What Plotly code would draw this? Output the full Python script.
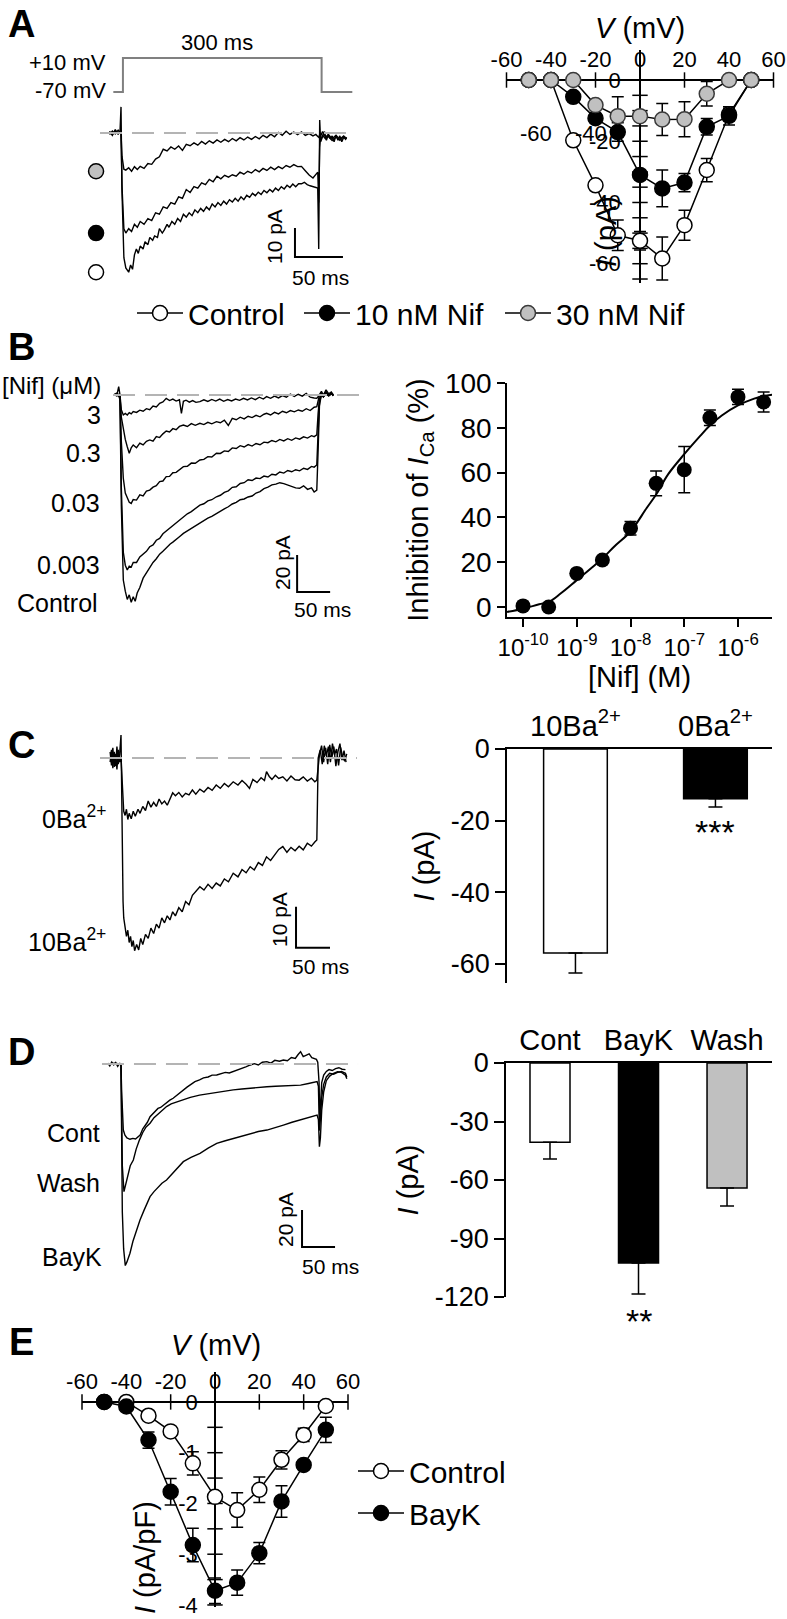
import plotly.graph_objects as go

W, H = 787, 1619
def X(px): return px / W
def Y(py): return 1 - py / H

FONT = "Liberation Sans, Arial, sans-serif"

# ================= DATA =================
# ---- Panel A: voltage protocol (ms, mV)
prot_t = [-8, 2, 2, 209, 209, 241]
prot_v = [-70, -70, 10, 10, -70, -70]

# ---- Panel A: current traces (ms, pA)
A_ctrl = [(-12,0.6),(-9,-0.8),(-6,1.2),(-3,-0.5),(-1,0.8),(0,9),(1,-20),(2,-38),(3,-43),(5,-46.5),(8,-48),(10,-45.5),(12,-47),(14,-42),(16,-40),(18,-41.5),(20,-39),(23,-40),(25,-37.5),(28,-38.5),(30,-36),(33,-37),(35,-35.5),(38,-36),(40,-33),(43,-34.5),(45,-33.5),(48,-31.5),(50,-32.5),(53,-30.5),(56,-31.5),(59,-29.5),(62,-30.5),(65,-28),(68,-29),(71,-27.5),(74,-28.5),(77,-26.5),(80,-27.5),(83,-26),(86,-27),(89,-25.5),(92,-26.5),(95,-24.5),(98,-25.5),(101,-24),(104,-25),(107,-23.5),(110,-24.5),(113,-23),(116,-23.8),(119,-22.5),(122,-23.5),(125,-22),(128,-23),(131,-21.5),(134,-22.2),(137,-20.8),(140,-21.6),(143,-20.4),(146,-21.2),(149,-19.8),(152,-20.6),(155,-19.5),(158,-20.3),(161,-19),(164,-19.8),(167,-18.5),(170,-19.3),(173,-18),(176,-18.8),(179,-17.6),(182,-18.5),(185,-17.5),(188,-17.5),(191,-17),(194,-17.8),(197,-18.2),(200,-18.5),(203,-18.8),(205,-19),(206,-40),(207,4.5),(208,-3),(210,-1.5),(212,0.5),(214,-2.5),(216,-0.5),(218,-2),(220,-1),(222,-3),(224,-0.8),(226,-2.5),(228,-1),(230,-3),(232,-1.5),(234,-2.2),(235,-1.5)]
A_nif10 = [(-12,-0.5),(-9,0.7),(-6,-0.3),(-3,1),(-1,0),(0,0),(1,-18),(2,-30),(3,-33),(5,-34.5),(8,-33),(11,-34),(14,-31.5),(17,-32.5),(20,-30.5),(24,-31.5),(28,-29.5),(32,-30.2),(36,-27.5),(40,-28),(44,-25.5),(48,-26),(52,-24),(56,-24.5),(60,-22),(64,-22.5),(68,-19.5),(72,-20.5),(76,-18.5),(80,-19),(84,-17.2),(88,-17.8),(92,-16),(96,-16.8),(100,-14.9),(104,-15.8),(108,-14.6),(112,-15.2),(116,-14.4),(120,-14.9),(124,-13.5),(128,-14.2),(132,-13.2),(136,-13.8),(140,-12.6),(144,-13.4),(148,-12.2),(152,-12.9),(156,-11.8),(160,-12.6),(164,-11.6),(168,-12.3),(172,-11.2),(176,-11.8),(180,-10.9),(184,-11.6),(188,-11.5),(192,-13),(196,-14.5),(200,-15.5),(203,-14.5),(205,-13.5),(206,-24),(207,-5),(208,-1),(210,0.5),(213,-1.5),(216,-0.5),(220,-2),(224,-0.8),(228,-2.2),(232,-1),(235,-2)]
A_nif30 = [(-12,0.3),(-9,-0.6),(-6,0.8),(-3,-0.2),(-1,0.5),(0,0),(1,-8),(2,-11.5),(3,-12.5),(5,-12.8),(8,-12),(11,-13.2),(14,-11.6),(17,-12.6),(20,-11.5),(24,-12.2),(28,-10.5),(32,-10.8),(36,-9),(40,-8.2),(44,-5.6),(48,-6.2),(52,-4.8),(56,-5.6),(60,-4.5),(64,-6),(68,-3.9),(72,-4.4),(76,-3.4),(80,-4.2),(84,-2.9),(88,-3.8),(92,-2.7),(96,-3.5),(100,-2.4),(104,-3.2),(108,-2.2),(112,-3),(116,-1.9),(120,-2.7),(124,-1.6),(128,-2.4),(132,-1.4),(136,-2.2),(140,-1.2),(144,-2),(148,-0.8),(152,-1.6),(156,-0.4),(160,-1.3),(164,0.2),(168,-0.8),(172,0.6),(176,-0.5),(180,0.3),(184,-0.6),(188,0.4),(192,-0.8),(196,-0.2),(200,-1),(203,-0.5),(205,-1.2),(206,-1.5),(207,-0.5),(208,-2.5),(210,-0.8),(213,-2),(216,-1.2),(220,-2.6),(224,-1.4),(228,-2.5),(232,-1.3),(235,-1.8)]

# ---- Panel A: I-V relation
iv_v = [-50, -40, -30, -20, -10, 0, 10, 20, 30, 40, 50]
ivA_ctrl = [0, 0, -19.7, -34.4, -50.7, -52.5, -58.3, -47.4, -29.4, -11.2, 0]
ivA_ctrl_err = [0, 0, 0, 0, 5, 3, 7, 4.9, 3.8, 2, 0]
ivA_nif10 = [0, 0, -5.5, -12.5, -17, -31, -35.4, -33.5, -15.3, -11.7, 0]
ivA_nif10_err = [0, 0, 0, 0, 3, 0, 6, 3, 2.7, 3, 0]
ivA_nif30 = [0, 0, 0, -8.2, -11.8, -11.8, -12.9, -12.8, -4.5, 0, 0]
ivA_nif30_err = [0, 0, 0, 0, 6.3, 0, 5.2, 5.7, 4, 0, 0]
iv_xticks = [-60, -40, -20, 0, 20, 40, 60]
ivA_yticklabels = [0, -20, -40, -60]
ivA_yticks = [0, -5, -10, -15, -20, -25, -30, -35, -40, -45, -50, -55, -60, -65]

# ---- Panel B: traces (ms, pA)
B_3 = [(-8,1),(-5,-0.5),(-2,4.5),(0,0),(2,-8),(5,-10.8),(8,-10),(11,-10.8),(14,-9.5),(17,-10.2),(20,-9),(25,-9.4),(30,-8.2),(35,-8.8),(40,-7.4),(45,-7.9),(50,-6),(55,-6.5),(60,-4.5),(65,-3.8),(70,-1.8),(75,-3),(80,-2.2),(85,-3.3),(90,-2.6),(93,-10),(96,-3.4),(100,-2.8),(105,-3.9),(110,-3),(115,-4),(121,-3.6),(127,-2.6),(133,-3.5),(139,-2.4),(145,-3.3),(151,-2.2),(157,-3.4),(163,-2.5),(169,-3.2),(175,-2.2),(181,-2.9),(187,-1.8),(193,-2.7),(199,-1.6),(205,-2.5),(211,-1.2),(217,-2.2),(222,-0.9),(228,-1.8),(234,-0.6),(240,-1.6),(246,-0.3),(252,-1.2),(258,0.5),(264,-0.8),(270,0.4),(276,-0.6),(282,0.8),(288,-1.2),(294,-1.6),(298,-1.8),(300,-1),(302,0.5),(305,2),(308,0),(312,2.8),(316,0.6),(320,1.6),(323,0)]
B_03 = [(-8,0),(-5,1),(-2,0),(0,-1),(2,-12),(5,-19),(8,-24),(11,-28),(14,-31.5),(17,-28.5),(20,-27),(25,-28.5),(30,-26),(35,-27),(40,-25),(45,-24.3),(50,-25),(55,-22.5),(60,-23),(65,-21),(70,-19.5),(75,-20),(80,-18.2),(85,-18.8),(90,-17),(96,-16.2),(102,-17),(108,-15.5),(114,-16.4),(121,-15.3),(127,-16),(133,-14.8),(139,-15.6),(146,-14.4),(152,-15),(158,-13.6),(164,-16.5),(170,-12.6),(176,-13.4),(182,-12),(188,-12.9),(194,-11.5),(200,-12.2),(206,-11),(212,-11.8),(218,-10.4),(222,-9.9),(228,-10.8),(234,-9.4),(240,-10.2),(246,-8.8),(252,-9.6),(258,-8.4),(264,-9.1),(270,-8.1),(276,-8.8),(282,-7.4),(288,-8.4),(294,-6.6),(298,-6.3),(300,-3),(302,0),(305,1),(308,-0.5),(312,1.8),(316,0),(320,1),(323,-0.5)]
B_003 = [(-8,0.5),(-5,0),(-2,-0.5),(0,-1),(2,-25),(5,-45),(8,-53),(11,-56),(14,-58),(17,-58.6),(20,-56.5),(25,-56.8),(30,-54),(35,-54.5),(40,-52),(45,-51.4),(50,-49.8),(55,-49),(60,-46.8),(65,-46.5),(70,-44.1),(75,-44),(80,-42),(85,-41.8),(90,-40.2),(96,-38.7),(102,-38.5),(108,-36.8),(114,-36.9),(121,-35.1),(127,-34.8),(133,-33.3),(139,-33.5),(146,-31.5),(152,-31.6),(158,-30.2),(164,-30.5),(170,-28.6),(176,-28.9),(182,-27.4),(188,-28.1),(194,-26.8),(200,-27.6),(206,-26.2),(212,-26.9),(218,-25.5),(224,-25.8),(230,-24.6),(236,-25.3),(242,-24),(248,-24.8),(254,-23.6),(260,-24.5),(266,-23.2),(272,-23.9),(278,-22.6),(284,-23.3),(290,-22),(294,-22.5),(298,-21.6),(300,-10),(302,-2),(305,0.5),(308,-1),(312,1),(316,-0.5),(320,0.5),(323,0)]
B_0003 = [(-8,0),(-5,0.5),(-2,0),(0,-2),(2,-50),(5,-85),(8,-92),(11,-94.6),(14,-92.5),(17,-93),(20,-90.5),(25,-90.5),(30,-87.5),(35,-86),(40,-84.5),(45,-82),(50,-81),(55,-78.5),(60,-77.5),(65,-75),(70,-73.5),(75,-72),(80,-70.5),(85,-69.2),(90,-67.5),(96,-66),(102,-64.2),(108,-63),(114,-61.2),(121,-59.5),(127,-58.8),(133,-57.2),(139,-56.6),(146,-55),(152,-54.2),(158,-52.6),(164,-51.8),(170,-49.9),(176,-49.6),(182,-47.8),(188,-47.4),(194,-45.8),(200,-46.2),(206,-44.9),(212,-45.2),(218,-43.8),(224,-44.3),(230,-42.8),(236,-43.2),(242,-41.6),(248,-42.2),(254,-40.8),(260,-41.5),(266,-40.4),(272,-41),(278,-39.6),(284,-40.2),(290,-38.6),(294,-39),(298,-37.8),(300,-20),(302,-4),(305,0),(308,-1),(312,0.5),(316,-0.5),(320,0.8),(323,0)]
B_ctrl = [(-8,0),(-5,-0.5),(-2,0.5),(0,-3),(2,-60),(5,-100),(8,-106),(11,-110.5),(14,-108),(17,-112),(20,-109),(23,-111.5),(26,-107),(30,-104),(35,-99),(40,-96),(46,-92.8),(50,-90.5),(55,-88.5),(60,-86),(65,-84.5),(71,-82),(76,-80.5),(80,-79.5),(85,-77.8),(90,-76.6),(96,-74.8),(102,-73.4),(108,-72),(114,-70.6),(121,-69.4),(127,-67.8),(133,-66.5),(139,-65.6),(146,-64),(152,-62.9),(158,-61.5),(164,-60.4),(170,-58.9),(176,-58),(182,-56.6),(188,-56.2),(194,-55.1),(200,-54.6),(206,-53),(212,-52.2),(218,-50.6),(224,-49.8),(230,-48.6),(236,-48.2),(242,-47.4),(248,-47.9),(254,-48.6),(260,-49.5),(266,-50.2),(272,-50.4),(278,-49.1),(284,-51),(290,-50.2),(294,-52.4),(298,-51.4),(300,-30),(302,-6),(305,0.5),(308,-1),(312,1.5),(316,0),(320,1),(323,-0.5)]
B_trace_labels = ["[Nif] (\u03bcM)", "3", "0.3", "0.03", "0.003", "Control"]

# ---- Panel B: concentration-response
nif_conc = [1e-10, 3e-10, 1e-9, 3e-9, 1e-8, 3e-8, 1e-7, 3e-7, 1e-6, 3e-6]
inhib = [0.5, 0, 15, 21, 35.2, 55.2, 61.3, 84.5, 93.8, 91.5]
inhib_err = [0, 0, 0, 0, 3, 5.5, 10.3, 3.5, 3.4, 4.5]
fit_conc = [5.05e-11, 1e-10, 2e-10, 3e-10, 5e-10, 1e-9, 2e-9, 3e-9, 5e-9, 1e-8, 2e-8, 3e-8, 5e-8, 1e-7, 2e-7, 3e-7, 5e-7, 1e-6, 2e-6, 3e-6, 4.3e-6]
fit_inhib = [-2.2, -0.75, 1.2, 2.2, 6.0, 12, 18, 21.7, 27, 33.7, 44.2, 50.2, 59.2, 68.2, 76.5, 81, 85.5, 90, 93, 94.2, 94.8]
conc_ticks = [1e-10, 1e-9, 1e-8, 1e-7, 1e-6]
conc_ticktext = ["10<sup>-10</sup>", "10<sup>-9</sup>", "10<sup>-8</sup>", "10<sup>-7</sup>", "10<sup>-6</sup>"]

# ---- Panel C: traces (ms, pA)
C_0Ba = [(-16,1.5),(-14,-1.8),(-12,2.5),(-10,-2.2),(-8,1),(-6,-2.8),(-4,2),(-2,-1),(0,0),(2,-8),(4,-13),(6,-14),(8,-12.5),(10,-15),(12,-13.5),(15,-14.8),(18,-13),(21,-14.2),(25,-12.5),(28,-13.5),(32,-11.8),(36,-12.8),(40,-10.5),(44,-12),(48,-10.8),(52,-11.8),(56,-10),(60,-11.2),(64,-10.5),(68,-11.5),(72,-9.8),(76,-8.5),(80,-9.2),(85,-8.4),(90,-9.5),(95,-8.6),(100,-9),(105,-7.8),(110,-8.8),(116,-7.6),(122,-8.3),(128,-7.2),(134,-7.9),(140,-6.6),(146,-7.4),(152,-6.2),(158,-7),(165,-5.8),(172,-6.6),(178,-5.5),(184,-6.4),(189,-7.4),(194,-5.2),(200,-6),(206,-4.8),(211,-5.5),(214,-3.3),(218,-4.5),(222,-5.2),(227,-4.2),(232,-5),(238,-4.6),(244,-5.6),(250,-4.4),(256,-5.3),(262,-5.4),(268,-4.6),(274,-5.6),(280,-4.9),(285,-5.8),(288,-5.4),(290,-2),(292,1),(295,3),(298,-1),(301,2.5),(304,-1.5),(307,3.2),(310,0),(313,2.8),(316,-2),(319,1.5),(322,3.5),(325,-0.5),(328,1.8),(331,-1)]
C_10Ba = [(-16,-1),(-14,2),(-12,-2.5),(-10,1.5),(-8,-2),(-6,2.8),(-4,-1.5),(-2,1),(0,5.6),(1,-10),(2,-25),(3,-35),(4,-39),(6,-41),(8,-43.5),(10,-42),(12,-45),(14,-43.5),(16,-46),(18,-44.5),(20,-47),(23,-45.5),(26,-46.8),(29,-44),(32,-45.5),(36,-43),(40,-44),(44,-41.5),(48,-42.8),(52,-40.5),(56,-41.5),(60,-39),(64,-40.2),(68,-38.5),(72,-39.5),(76,-37.5),(80,-38.5),(85,-36.5),(90,-37.5),(95,-35),(100,-35.8),(105,-33.5),(110,-32.5),(116,-31.4),(122,-32.2),(128,-30.8),(134,-31.8),(140,-30.5),(146,-31.2),(152,-29.5),(158,-30.2),(165,-28.1),(172,-29),(178,-27.2),(184,-28),(190,-26.5),(196,-27.3),(202,-25.5),(208,-26.2),(214,-24.1),(220,-25),(226,-23.5),(232,-22.3),(238,-21.6),(244,-23),(250,-21.8),(256,-22.6),(262,-21.5),(268,-22.4),(274,-20.8),(280,-21.5),(285,-20.5),(288,-20),(289,-10),(290,0),(293,2),(296,-1.5),(299,3),(302,0.5),(305,2.8),(308,-1),(311,3.5),(314,0.8),(317,2.2),(320,-1.8),(323,2.6),(326,0.2),(329,-0.8),(332,1)]
C_trace_labels = ["0Ba<sup>2+</sup>", "10Ba<sup>2+</sup>"]

# ---- Panel C: bars
C_cats = ["10Ba<sup>2+</sup>", "0Ba<sup>2+</sup>"]
C_vals = [-56.9, -13.9]
C_err = [5.6, 2.3]
C_yticks = [0, -20, -40, -60]

# ---- Panel D: traces (ms, pA)
D_cont = [(-20,0.5),(-17,-1),(-14,1),(-11,-0.5),(-8,0.8),(-5,-1.2),(-2,0.5),(0,-1),(1,-15),(2,-28),(3.5,-35.7),(6,-38.5),(9,-40),(13.6,-40.7),(18,-40.2),(22,-40.5),(26,-39.5),(29,-38.4),(33,-35),(37,-33),(40,-31.5),(44,-28.5),(48,-27),(52,-26),(56,-24),(60,-23.5),(65,-22),(69,-21.3),(74,-19.5),(79,-18.5),(84,-17),(89,-15.5),(94,-14),(100,-12.5),(106,-11),(112,-9.5),(119,-8.6),(125,-7.5),(132,-7),(138,-6),(145,-5.9),(152,-5),(158,-4.5),(164,-4.8),(170,-4.1),(177,-3),(183,-2.2),(189,-1.5),(196,-0.5),(202,0.2),(208,-0.5),(214,1),(221,1.3),(227,0.5),(233,2),(240,1.5),(246,2.2),(252,1.8),(258,3.5),(264,3),(268,5),(272,6.7),(276,4),(280,4.5),(285,5.5),(289,3.5),(292,3.1),(296,2.5),(298,1),(300,-10),(301,-30),(302,-25),(304,-10),(307,-6),(311,-4),(315,-3),(320,-3.5),(325,-2.5),(330,-2),(335,-2.8),(340,-3)]
D_wash = [(-20,0),(-10,0.5),(0,0),(1,-30),(2,-55),(4.5,-69),(7,-65),(10,-60),(14,-55),(18.7,-51.9),(23,-46),(28,-41),(33,-37),(38,-34),(44,-32),(50,-29),(56,-27),(62,-25),(69,-23),(76,-21.5),(84,-20.5),(94,-19.5),(105,-18),(119,-16.8),(132,-16),(145,-15.5),(158,-14.5),(170,-14),(183,-13.5),(196,-13),(208,-12.8),(221,-12.3),(234,-12),(246,-11.8),(259,-11.4),(272,-11.4),(284,-10.5),(292,-10),(297,-9.5),(299,-12),(300.5,-36),(302,-30),(304,-18),(307,-11),(311,-7),(316,-5),(322,-5.5),(328,-4.5),(334,-4),(340,-5),(342,-7)]
D_bayk = [(-20,0),(-10,0),(0,0),(1,-40),(2,-80),(4,-100),(6.5,-109),(9,-107),(13.6,-102.3),(18,-96),(23,-90),(28.8,-84.3),(35,-79),(40,-75),(44,-71.7),(50,-69),(56,-66.5),(62,-64.5),(69,-62.7),(76,-60),(84,-57),(94.4,-52.8),(106,-50.5),(119.7,-48.3),(132,-45.5),(145,-42.9),(158,-41.5),(170,-40.2),(183,-39),(195.7,-37.5),(208,-36.5),(221,-35.7),(234,-34.5),(246,-33),(259,-31.5),(271.7,-30.3),(284,-29),(292,-28.2),(297,-27.6),(299,-30),(300.5,-44.7),(302,-40),(304,-25),(307,-15),(311,-9),(316,-6.5),(322,-5),(328,-4.2),(334,-4.5),(340,-6),(342,-8)]
D_trace_labels = ["Cont", "Wash", "BayK"]

# ---- Panel D: bars
D_cats = ["Cont", "BayK", "Wash"]
D_vals = [-40.6, -102.6, -64.1]
D_err = [8.6, 15.9, 9.2]
D_yticks = [0, -30, -60, -90, -120]

# ---- Panel E: I-V density
e_ctrl = [0, 0, -0.27, -0.58, -1.21, -1.87, -2.13, -1.73, -1.14, -0.65, -0.08]
e_ctrl_err = [0, 0, 0, 0, 0.23, 0.1, 0.34, 0.25, 0.18, 0.13, 0]
e_bayk = [0, -0.09, -0.75, -1.77, -2.82, -3.72, -3.56, -2.98, -1.96, -1.24, -0.55]
e_bayk_err = [0, 0, 0.16, 0.26, 0.33, 0.25, 0.25, 0.21, 0.31, 0, 0.25]
e_yticklabels = [0, -1, -2, -3, -4]
e_yticks = [0, -0.5, -1, -1.5, -2, -2.5, -3, -3.5, -4]

def txt(vals):
    return [str(v) for v in vals]   # plain hyphen minus, as in the figure

# ================= FIGURE =================
fig = go.Figure()

def unzip(pairs):
    return [p[0] for p in pairs], [p[1] for p in pairs]

def trace_line(pairs, xa, ya):
    t, i = unzip(pairs)
    fig.add_trace(go.Scatter(x=t, y=i, mode="lines", line=dict(color="black", width=1.4),
                             xaxis=xa, yaxis=ya, showlegend=False, hoverinfo="skip"))

# Panel A protocol + traces
fig.add_trace(go.Scatter(x=prot_t, y=prot_v, mode="lines", line=dict(color="#808080", width=2),
                         xaxis="x2", yaxis="y2", showlegend=False))
for tr in (A_ctrl, A_nif10, A_nif30):
    trace_line(tr, "x", "y")
fig.add_trace(go.Scatter(
    x=[-26, -26, -26],
    y=[min(unzip(A_nif30)[1]), min(unzip(A_nif10)[1]), min(unzip(A_ctrl)[1])],
    mode="markers", marker=dict(size=15, color=["#c0c0c0", "black", "white"],
                                line=dict(color="black", width=1.5)),
    xaxis="x", yaxis="y", showlegend=False, cliponaxis=False))

# Panel A IV: crossing tick marks
fig.add_trace(go.Scatter(x=iv_xticks, y=[0]*len(iv_xticks), mode="markers",
                         marker=dict(symbol="line-ns", size=11, line=dict(color="black", width=1.5)),
                         xaxis="x3", yaxis="y3", showlegend=False, cliponaxis=False))
fig.add_trace(go.Scatter(x=[0]*len(ivA_yticks), y=ivA_yticks, mode="markers",
                         marker=dict(symbol="line-ew", size=11, line=dict(color="black", width=1.5)),
                         xaxis="x3", yaxis="y3", showlegend=False, cliponaxis=False))

def iv_trace(y, err, name, fill, xa, ya, legend):
    fig.add_trace(go.Scatter(
        x=iv_v, y=y, name=name, mode="lines+markers",
        line=dict(color="black", width=1.5),
        marker=dict(size=15, color=fill, line=dict(color="black" if fill != "#c0c0c0" else "#3a3a3a", width=1.5)),
        error_y=dict(type="data", array=err, color="black", thickness=1.5, width=6),
        xaxis=xa, yaxis=ya, legend=legend, cliponaxis=False))

iv_trace(ivA_ctrl, ivA_ctrl_err, "Control", "white", "x3", "y3", "legend")
iv_trace(ivA_nif10, ivA_nif10_err, "10 nM Nif", "black", "x3", "y3", "legend3")
iv_trace(ivA_nif30, ivA_nif30_err, "30 nM Nif", "#c0c0c0", "x3", "y3", "legend4")

# Panel B traces
for tr in (B_3, B_03, B_003, B_0003, B_ctrl):
    trace_line(tr, "x4", "y4")

# Panel B dose-response
fig.add_trace(go.Scatter(x=fit_conc, y=fit_inhib, mode="lines", line=dict(color="black", width=2, shape="spline"),
                         xaxis="x5", yaxis="y5", showlegend=False))
fig.add_trace(go.Scatter(x=nif_conc, y=inhib, mode="markers",
                         marker=dict(size=15, color="black"),
                         error_y=dict(type="data", array=inhib_err, color="black", thickness=1.5, width=6),
                         xaxis="x5", yaxis="y5", showlegend=False, cliponaxis=False))

# Panel C
for tr in (C_0Ba, C_10Ba):
    trace_line(tr, "x6", "y6")
fig.add_trace(go.Bar(x=[1, 2], y=C_vals, width=0.455,
                     marker=dict(color=["white", "black"], line=dict(color="black", width=1.5)),
                     error_y=dict(type="data", symmetric=False, array=[0, 0], arrayminus=C_err,
                                  color="black", thickness=1.5, width=7),
                     xaxis="x7", yaxis="y7", showlegend=False))

# Panel D
for tr in (D_cont, D_wash, D_bayk):
    trace_line(tr, "x8", "y8")
fig.add_trace(go.Bar(x=[1, 2, 3], y=D_vals, width=0.452,
                     marker=dict(color=["white", "black", "#c0c0c0"], line=dict(color="black", width=1.5)),
                     error_y=dict(type="data", symmetric=False, array=[0, 0, 0], arrayminus=D_err,
                                  color="black", thickness=1.5, width=7),
                     xaxis="x9", yaxis="y9", showlegend=False))

# Panel E
fig.add_trace(go.Scatter(x=iv_xticks, y=[0]*len(iv_xticks), mode="markers",
                         marker=dict(symbol="line-ns", size=11, line=dict(color="black", width=1.5)),
                         xaxis="x10", yaxis="y10", showlegend=False, cliponaxis=False))
fig.add_trace(go.Scatter(x=[0]*len(e_yticks), y=e_yticks, mode="markers",
                         marker=dict(symbol="line-ew", size=11, line=dict(color="black", width=1.5)),
                         xaxis="x10", yaxis="y10", showlegend=False, cliponaxis=False))
iv_trace(e_ctrl, e_ctrl_err, "Control", "white", "x10", "y10", "legend2")
iv_trace(e_bayk, e_bayk_err, "BayK", "black", "x10", "y10", "legend2")

# ================= AXES =================
hidden = dict(visible=False, showgrid=False, zeroline=False, automargin=False)

def dom_x(a, b): return [X(a), X(b)]
def dom_y(top, bottom): return [Y(bottom), Y(top)]

TF = dict(family=FONT, color="black")

def leg(px, py, orient="h", yanchor="middle"):
    return dict(orientation=orient, x=X(px), y=Y(py), xanchor="left", yanchor=yanchor, itemwidth=46,
                font=dict(size=30, **TF), bgcolor="rgba(0,0,0,0)", itemclick=False, tracegroupgap=0)

layout = dict(
    width=W, height=H, margin=dict(l=0, r=0, t=0, b=0), autosize=False,
    paper_bgcolor="white", plot_bgcolor="rgba(0,0,0,0)",
    font=dict(family=FONT, color="black", size=22),
    showlegend=True,
    # A traces
    xaxis=dict(domain=dom_x(95, 360), range=[-27.1, 249], anchor="y", **hidden),
    yaxis=dict(domain=dom_y(100, 285), range=[-52.41, 11.38], anchor="x", **hidden),
    # A protocol
    xaxis2=dict(domain=dom_x(95, 360), range=[-27.1, 249], anchor="y2", **hidden),
    yaxis2=dict(domain=dom_y(40, 100), range=[-88.8, 52.35], anchor="x2", **hidden),
    # A IV
    xaxis3=dict(domain=dom_x(506.5, 773.5), range=[-60, 60], anchor="free", position=Y(80), side="top",
                showline=True, linecolor="black", linewidth=1.5, tickvals=iv_xticks, ticktext=txt(iv_xticks),
                ticks="outside", ticklen=3, tickcolor="rgba(0,0,0,0)", tickfont=dict(size=22, **TF),
                showgrid=False, zeroline=False, layer="below traces", automargin=False),
    yaxis3=dict(domain=dom_y(50, 283), range=[-66.3, 9.8], anchor="free", position=X(640),
                showline=True, linecolor="black", linewidth=1.5, tickvals=ivA_yticklabels, ticktext=txt(ivA_yticklabels),
                ticks="outside", ticklen=14, tickcolor="rgba(0,0,0,0)", tickfont=dict(size=22, **TF),
                showgrid=False, zeroline=False, layer="below traces", automargin=False),
    # B traces
    xaxis4=dict(domain=dom_x(100, 365), range=[-30.3, 371], anchor="y4", **hidden),
    yaxis4=dict(domain=dom_y(380, 620), range=[-121.6, 8.1], anchor="x4", **hidden),
    # B dose-response
    xaxis5=dict(domain=dom_x(507, 772), type="log", range=[-10.298, -5.367], anchor="y5",
                showline=True, linecolor="black", linewidth=1.5, ticks="outside", ticklen=8, tickwidth=1.5,
                tickcolor="black", tickvals=conc_ticks, ticktext=conc_ticktext, tickangle=0,
                tickfont=dict(size=24, **TF), showgrid=False, zeroline=False, automargin=False,
                title=dict(text="[Nif] (M)", font=dict(size=29, **TF), standoff=2)),
    yaxis5=dict(domain=dom_y(383, 617), range=[-4.46, 100], anchor="x5",
                showline=True, linecolor="black", linewidth=1.5, ticks="outside", ticklen=8, tickwidth=1.5,
                tickcolor="black", tickvals=[0, 20, 40, 60, 80, 100], tickfont=dict(size=28, **TF),
                showgrid=False, zeroline=False, automargin=False,
                title=dict(text="Inhibition of <i>I</i><sub>Ca</sub> (%)", font=dict(size=29, **TF), standoff=8)),
    # C traces
    xaxis6=dict(domain=dom_x(100, 360), range=[-30.9, 351.5], anchor="y6", **hidden),
    yaxis6=dict(domain=dom_y(725, 970), range=[-51.7, 8.05], anchor="x6", **hidden),
    # C bars
    xaxis7=dict(domain=dom_x(507, 772), range=[0.511, 2.404], anchor="y7", side="top",
                showline=True, linecolor="black", linewidth=1.5, ticks="", tickvals=[1, 2], ticktext=C_cats,
                tickfont=dict(size=29, **TF), showgrid=False, zeroline=False, automargin=False),
    yaxis7=dict(domain=dom_y(749, 983), range=[-65.3, 0], anchor="x7",
                showline=True, linecolor="black", linewidth=1.5, ticks="outside", ticklen=10, tickwidth=1.5,
                tickcolor="black", tickvals=C_yticks, ticktext=txt(C_yticks), tickfont=dict(size=27, **TF),
                showgrid=False, zeroline=False, automargin=False,
                title=dict(text="<i>I</i> (pA)", font=dict(size=29, **TF), standoff=8)),
    # D traces
    xaxis8=dict(domain=dom_x(100, 360), range=[-31.8, 362], anchor="y8", **hidden),
    yaxis8=dict(domain=dom_y(1040, 1280), range=[-116.8, 13], anchor="x8", **hidden),
    # D bars
    xaxis9=dict(domain=dom_x(506, 772), range=[0.503, 3.508], anchor="y9", side="top",
                showline=True, linecolor="black", linewidth=1.5, ticks="", tickvals=[1, 2, 3], ticktext=D_cats,
                tickfont=dict(size=29, **TF), showgrid=False, zeroline=False, automargin=False),
    yaxis9=dict(domain=dom_y(1063, 1297), range=[-120, 0], anchor="x9",
                showline=True, linecolor="black", linewidth=1.5, ticks="outside", ticklen=10, tickwidth=1.5,
                tickcolor="black", tickvals=D_yticks, ticktext=txt(D_yticks), tickfont=dict(size=27, **TF),
                showgrid=False, zeroline=False, automargin=False,
                title=dict(text="<i>I</i> (pA)", font=dict(size=29, **TF), standoff=8)),
    # E IV
    xaxis10=dict(domain=dom_x(82, 348), range=[-60, 60], anchor="free", position=Y(1402), side="top",
                 showline=True, linecolor="black", linewidth=1.5, tickvals=iv_xticks, ticktext=txt(iv_xticks),
                 ticks="outside", ticklen=3, tickcolor="rgba(0,0,0,0)", tickfont=dict(size=22, **TF),
                 showgrid=False, zeroline=False, layer="below traces", automargin=False),
    yaxis10=dict(domain=dom_y(1372, 1607), range=[-4.04, 0.59], anchor="free", position=X(215),
                 showline=True, linecolor="black", linewidth=1.5, tickvals=e_yticklabels, ticktext=txt(e_yticklabels),
                 ticks="outside", ticklen=12, tickcolor="rgba(0,0,0,0)", tickfont=dict(size=22, **TF),
                 showgrid=False, zeroline=False, layer="below traces", automargin=False),
    legend=leg(132, 313),
    legend3=leg(299, 313),
    legend4=leg(500, 313),
    legend2=leg(353, 1445, orient="v", yanchor="top"),
)
fig.update_layout(**layout)

# ================= SHAPES (baselines, scale bars) =================
shapes = []
def dashed(xa, ya, t0, t1):
    shapes.append(dict(type="line", xref=xa, yref=ya, x0=t0, x1=t1, y0=0, y1=0,
                       line=dict(color="#b4b4b4", width=2, dash="22px,10px")))
def scalebar(xa, ya, t0, i0, dt, di):
    shapes.append(dict(type="path", xref=xa, yref=ya,
                       path=f"M {t0},{i0 + di} L {t0},{i0} L {t0 + dt},{i0}",
                       line=dict(color="black", width=2)))
dashed("x", "y", -21.9, 243.75)
dashed("x4", "y4", -10.6, 368)
dashed("x6", "y6", -30.9, 347)
dashed("x8", "y8", -28.8, 359)
scalebar("x", "y", 181.25, -42.76, 50, 10)
scalebar("x4", "y4", 268.2, -106.5, 50, 20)
scalebar("x6", "y6", 257.4, -46.3, 50, 10)
scalebar("x8", "y8", 274.2, -98.9, 50, 20)
fig.update_layout(shapes=shapes)

# ================= TEXT =================
anns = []
def ann(text, px, py, size, xanchor="center", yanchor="middle", angle=0):
    anns.append(dict(text=text, x=X(px), y=Y(py), xref="paper", yref="paper", showarrow=False,
                     xanchor=xanchor, yanchor=yanchor, textangle=angle,
                     font=dict(size=size, family=FONT, color="black")))

for letter, py in (("A", 24), ("B", 347), ("C", 745), ("D", 1052), ("E", 1342)):
    ann(f"<b>{letter}</b>", 21, py, 38)

# A
ann("300 ms", 217, 43, 22)
ann("+10 mV", 108, 62, 22, xanchor="right")
ann("-70 mV", 108, 91, 22, xanchor="right")
ann("10 pA", 275, 237, 21, angle=-90)
ann("50 ms", 320, 277, 21)
ann("<i>V</i> (mV)", 640, 28, 29)
ann("<i>I</i> (pA)", 606, 232, 29, angle=-90)
ann("-60", 536, 133, 22)
ann("-40", 591, 133, 22)

# B
for lab, px, py, fs in zip(B_trace_labels, [103, 103, 103, 102, 102, 100],
                           [385, 415, 453, 503, 565, 603], [24, 25, 25, 25, 25, 25]):
    ann(lab, px, py, fs, xanchor="right")
ann("20 pA", 282, 563, 21, angle=-90)
ann("50 ms", 322, 609, 21)

# C
ann(C_trace_labels[0], 108, 817, 25, xanchor="right")
ann(C_trace_labels[1], 108, 940, 25, xanchor="right")
ann("10 pA", 279, 920, 21, angle=-90)
ann("50 ms", 320, 967, 21)
ann("***", 715, 832, 34)

# D
for lab, px, py in zip(D_trace_labels, [102, 102, 104], [1133, 1183, 1257]):
    ann(lab, px, py, 25, xanchor="right")
ann("20 pA", 285, 1220, 21, angle=-90)
ann("50 ms", 330, 1266, 21)
ann("**", 639, 1321, 34)

# E
ann("<i>V</i> (mV)", 216, 1345, 29)
ann("<i>I</i> (pA/pF)", 145, 1558, 29, angle=-90)

fig.update_layout(annotations=anns)

# remove the default 8px page margin so the figure sits at the window's top-left corner
fig.write_html("out.html", config={"displayModeBar": False},
               post_script="document.body.style.margin='0px';")
